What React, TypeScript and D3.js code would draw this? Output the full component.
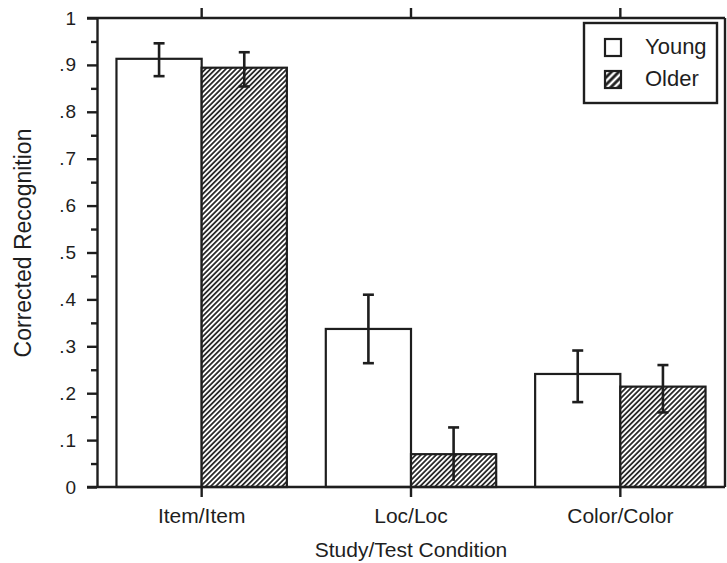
import React, { useEffect, useRef } from "react";
import * as d3 from "d3";

const categories = ["Item/Item", "Loc/Loc", "Color/Color"];
const groups = ["Young", "Older"];
const youngValues = [0.913, 0.337, 0.241];
const youngErrLow = [0.876, 0.264, 0.181];
const youngErrHigh = [0.946, 0.41, 0.291];
const olderValues = [0.894, 0.07, 0.214];
const olderErrLow = [0.854, 0.013, 0.159];
const olderErrHigh = [0.927, 0.127, 0.26];
const yTicks = [0, 0.1, 0.2, 0.3, 0.4, 0.5, 0.6, 0.7, 0.8, 0.9, 1];

const width = 727;
const height = 563;
const margin = { top: 18, right: 2, bottom: 76, left: 97 };
const font = "'Liberation Sans', Arial, Helvetica, sans-serif";
const ink = "#1e1e1e";

export default function App() {
  const svgRef = useRef<SVGSVGElement>(null);

  useEffect(() => {
    const root = d3.select(svgRef.current);
    root.selectAll("*").remove();

    const plotWidth = width - margin.left - margin.right;
    const plotHeight = height - margin.top - margin.bottom;

    // hatch patterns: bars (thin dark lines), legend swatch (dark with white stripes)
    const defs = root.append("defs");
    const addPattern = (id: string, size: number, bg: string, fg: string, sw: number) => {
      const p = defs
        .append("pattern")
        .attr("id", id)
        .attr("patternUnits", "userSpaceOnUse")
        .attr("width", size)
        .attr("height", size)
        .attr("patternTransform", "rotate(45)");
      p.append("rect").attr("width", size).attr("height", size).attr("fill", bg);
      p.append("line")
        .attr("x1", size / 2)
        .attr("y1", 0)
        .attr("x2", size / 2)
        .attr("y2", size)
        .attr("stroke", fg)
        .attr("stroke-width", sw);
    };
    addPattern("hatch", 3.6, "#fff", ink, 1.7);
    addPattern("hatchKey", 5.2, ink, "#fff", 2.4);

    const svg = root
      .append("g")
      .attr("transform", `translate(${margin.left}, ${margin.top})`);

    const yScale = d3.scaleLinear().domain([0, 1]).range([plotHeight, 0]);
    const xScale = d3
      .scaleBand()
      .domain(categories)
      .range([0, plotWidth])
      .paddingInner(0.186)
      .paddingOuter(0.093);
    const xSub = d3
      .scaleBand()
      .domain(groups)
      .range([0, xScale.bandwidth()]);

    const data = categories.map((c, i) => ({
      cat: c,
      vals: [
        { g: "Young", v: youngValues[i], lo: youngErrLow[i], hi: youngErrHigh[i] },
        { g: "Older", v: olderValues[i], lo: olderErrLow[i], hi: olderErrHigh[i] },
      ],
    }));

    // Bars
    const cat = svg
      .selectAll("g.cat")
      .data(data)
      .enter()
      .append("g")
      .attr("class", "cat")
      .attr("transform", (d) => `translate(${xScale(d.cat)},0)`);

    cat
      .selectAll("rect")
      .data((d) => d.vals)
      .enter()
      .append("rect")
      .attr("x", (d) => xSub(d.g)!)
      .attr("y", (d) => yScale(d.v))
      .attr("width", xSub.bandwidth())
      .attr("height", (d) => plotHeight - yScale(d.v))
      .attr("fill", (d) => (d.g === "Young" ? "#fff" : "url(#hatch)"))
      .attr("stroke", ink)
      .attr("stroke-width", 2.2);

    // Error bars
    const err = cat
      .selectAll("g.err")
      .data((d) => d.vals)
      .enter()
      .append("g")
      .attr("class", "err")
      .attr("stroke", ink)
      .attr("stroke-width", 2.6);
    const cx = (d: { g: string }) => xSub(d.g)! + xSub.bandwidth() / 2;
    err
      .append("line")
      .attr("x1", cx)
      .attr("x2", cx)
      .attr("y1", (d) => yScale(d.lo))
      .attr("y2", (d) => yScale(d.hi));
    err
      .append("line")
      .attr("x1", (d) => cx(d) - 5.5)
      .attr("x2", (d) => cx(d) + 5.5)
      .attr("y1", (d) => yScale(d.hi))
      .attr("y2", (d) => yScale(d.hi));
    err
      .filter((d) => d.lo > 0.02)
      .append("line")
      .attr("x1", (d) => cx(d) - 5.5)
      .attr("x2", (d) => cx(d) + 5.5)
      .attr("y1", (d) => yScale(d.lo))
      .attr("y2", (d) => yScale(d.lo));

    // Frame
    const frame = svg.append("g").attr("stroke", ink).attr("stroke-width", 2.4).attr("fill", "none");
    frame.append("line").attr("x1", -10).attr("x2", plotWidth).attr("y1", 0).attr("y2", 0);
    frame.append("line").attr("x1", -10).attr("x2", plotWidth).attr("y1", plotHeight).attr("y2", plotHeight);
    frame.append("line").attr("x1", plotWidth).attr("x2", plotWidth).attr("y1", 0).attr("y2", plotHeight);

    // Y Axis (major + minor)
    const yFmt = (d: number) => (d === 0 ? "0" : d === 1 ? "1" : d3.format(".1f")(d).replace(/^0/, ""));
    const yMinor = svg
      .append("g")
      .call(
        d3
          .axisLeft(yScale)
          .tickValues(d3.range(0.05, 1, 0.1))
          .tickSize(6)
          .tickSizeOuter(0)
          .tickFormat(() => "")
      );
    yMinor.select(".domain").remove();
    const yAxis = svg
      .append("g")
      .call(
        d3
          .axisLeft(yScale)
          .tickValues(yTicks)
          .tickSize(10)
          .tickSizeOuter(0)
          .tickPadding(10)
          .tickFormat((d) => yFmt(+d))
      );
    svg.selectAll(".tick line").attr("stroke", ink).attr("stroke-width", 2.4);
    yAxis.select(".domain").attr("stroke", ink).attr("stroke-width", 2.4);
    yAxis
      .selectAll("text")
      .attr("fill", ink)
      .style("font-family", font)
      .style("font-size", "19px")
      .style("letter-spacing", "1px");

    // X Axis ticks (bottom + top)
    const centers = categories.map((c) => xScale(c)! + xScale.bandwidth() / 2);
    const xAxis = svg
      .append("g")
      .attr("transform", `translate(0,${plotHeight})`)
      .call(d3.axisBottom(xScale).tickSize(10).tickSizeOuter(0));
    xAxis.select(".domain").remove();
    xAxis.selectAll(".tick line").attr("stroke", ink).attr("stroke-width", 2.4);
    xAxis
      .selectAll("text")
      .attr("y", 36)
      .attr("dy", null)
      .attr("fill", ink)
      .style("font-family", font)
      .style("font-size", "21px");
    const xTop = svg
      .append("g")
      .call(d3.axisTop(xScale).tickSize(10).tickSizeOuter(0).tickFormat(() => ""));
    xTop.select(".domain").remove();
    xTop.selectAll(".tick line").attr("stroke", ink).attr("stroke-width", 2.4);

    // Axis titles
    svg
      .append("text")
      .attr("x", d3.mean(centers)!)
      .attr("y", plotHeight + 70)
      .attr("text-anchor", "middle")
      .attr("fill", ink)
      .style("font-family", font)
      .style("font-size", "21px")
      .text("Study/Test Condition");
    svg
      .append("text")
      .attr("transform", `translate(${31 - margin.left},${243 - margin.top}) rotate(-90)`)
      .attr("text-anchor", "middle")
      .attr("fill", ink)
      .style("font-family", font)
      .style("font-size", "23px")
      .text("Corrected Recognition");

    // Legend
    const lg = svg.append("g").attr("transform", `translate(${plotWidth - 141},5)`);
    lg.append("rect")
      .attr("width", 133)
      .attr("height", 80)
      .attr("fill", "#fff")
      .attr("stroke", ink)
      .attr("stroke-width", 2.4);
    groups.forEach((g, i) => {
      const row = lg.append("g").attr("transform", `translate(21,${16 + i * 32})`);
      row
        .append("rect")
        .attr("width", 16)
        .attr("height", 17)
        .attr("fill", g === "Young" ? "#fff" : "url(#hatchKey)")
        .attr("stroke", ink)
        .attr("stroke-width", 2.2);
      row
        .append("text")
        .attr("x", 40)
        .attr("y", 15)
        .attr("fill", ink)
        .style("font-family", font)
        .style("font-size", "22px")
        .text(g);
    });
  }, []);

  return (
    <svg
      ref={svgRef}
      width={width}
      height={height}
      style={{ display: "block", position: "absolute", left: 0, top: 0, background: "#fff" }}
    />
  );
}
